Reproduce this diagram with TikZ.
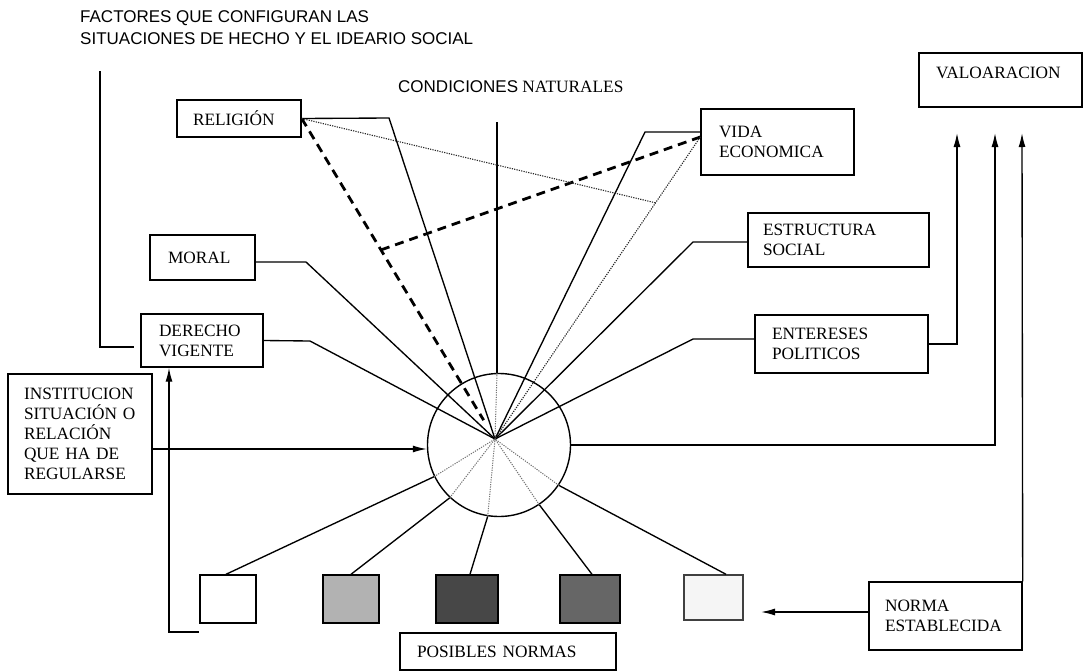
\documentclass[tikz,border=0pt]{standalone}
\usepackage{fontspec}
\setmainfont{Liberation Serif}
\newfontfamily\arialf{Liberation Sans}
\usetikzlibrary{arrows.meta,calc}
\begin{document}
\begin{tikzpicture}[x=1pt,y=-1pt,
  every node/.style={font=\fontsize{17.3}{20}\selectfont},
  box/.style={draw, line width=1.4pt, rectangle, align=left, inner ysep=0pt},
  sq/.style={draw, line width=1.4pt, rectangle, inner sep=0pt, minimum height=48pt},
  ln/.style={line width=1.35pt},
  arr/.style={line width=1.35pt, -{Latex[length=14pt,width=7pt]}},
  dashline/.style={line width=2.8pt, dash pattern=on 9pt off 6pt},
  dotline/.style={line width=1.1pt, dash pattern=on 1.2pt off 1.2pt, black!85},
  inline/.style={line width=1pt, dash pattern=on 1.2pt off 1.2pt, black!55},
]
\useasboundingbox (0,0) rectangle (1087,672);

% texts
\node[anchor=west, align=left, inner sep=0, font=\arialf\fontsize{17}{21.5}\selectfont] (title) at (80,27.5)
  {FACTORES QUE CONFIGURAN LAS\\SITUACIONES DE HECHO Y EL IDEARIO SOCIAL};
\node[anchor=west, inner sep=0] (cond) at (398,87) {{\arialf\fontsize{17}{20}\selectfont CONDICIONES} NATURALES};

% boxes
\node[box, text width=92pt, inner xsep=16pt, minimum height=37pt] (rel) at (239,118.5) {RELIGIÓN};
\node[box, text width=69pt, inner xsep=18pt, minimum height=45pt] (mor) at (202.5,257.5) {MORAL};
\node[box, text width=86pt, inner xsep=18pt, minimum height=53pt] (der) at (202,340.5) {DERECHO\\VIGENTE};
\node[box, text width=112pt, inner xsep=16pt, minimum height=120pt] (inst) at (80,434) {INSTITUCION\\SITUACIÓN O\\RELACIÓN\\QUE HA DE\\REGULARSE};
\node[box, text width=117pt, inner xsep=18pt, minimum height=66pt] (vida) at (777.5,142) {VIDA\\ECONOMICA};
\node[box, text width=151pt, inner xsep=15pt, minimum height=54pt] (est) at (838.5,240) {ESTRUCTURA\\SOCIAL};
\node[box, text width=139pt, inner xsep=17pt, minimum height=58pt] (ent) at (841.5,344) {ENTERESES\\POLITICOS};
\node[box, text width=129pt, inner xsep=17pt, minimum height=54pt] (val) at (1000.5,80) {VALOARACION\\[-6pt]~};
\node[box, text width=121pt, inner xsep=16pt, minimum height=68pt] (norma) at (945.5,616) {NORMA\\ESTABLECIDA};
\node[box, text width=182pt, inner xsep=17pt, minimum height=37pt] (pos) at (508,651.5) {POSIBLES NORMAS};

% circle
\node[draw, circle, line width=1.4pt, minimum size=143pt, inner sep=0pt] (circ) at (499,445) {};
\coordinate (C) at (495,439);

% small squares
\node[sq, minimum width=56pt] (b1) at (228,599) {};
\node[sq, minimum width=56pt, fill=black!30] (b2) at (351,599) {};
\node[sq, minimum width=62pt, fill=black!72] (b3) at (467,599) {};
\node[sq, minimum width=60pt, fill=black!60] (b4) at (590,599) {};
\node[sq, minimum width=59pt, minimum height=45pt, fill=black!4, draw=black!75] (b5) at (713.5,597.5) {};

% factor lines to the centre
\coordinate (R1) at (389,118);
\draw[ln] (rel.east) -- (R1) -- (C);
\coordinate (M1) at (306,262);
\draw[ln] (mor.east |- M1) -- (M1) -- (C);
\coordinate (D1) at (310,341);
\draw[ln] (der.east) -- (D1) -- (C);
\coordinate (V1) at (645,132);
\draw[ln] (vida.west |- V1) -- (V1) -- (C);
\coordinate (S1) at (693,242);
\draw[ln] (est.west |- S1) -- (S1) -- (C);
\coordinate (E1) at (693,339);
\draw[ln] (ent.west |- E1) -- (E1) -- (C);
\coordinate (CN) at (497,122);
\draw[ln] (CN) -- (CN |- circ.north);
\draw[inline] (CN |- circ.north) -- (C);

% dashed and dotted relations
\coordinate (V2) at ([yshift=5pt]vida.west);
\draw[dashline, shorten >=22pt] (rel.east) -- (C);
\coordinate (DB) at ($(rel.east)!0.41!(C)$);
\draw[dashline] (DB) -- (V2);
\coordinate (DT) at ($(V2)!0.218!(C)$);
\draw[dotline] (rel.east) -- (DT);
\draw[dotline] (V2) -- (C);

% possible norms
\draw[ln] ([xshift=-2pt]b1.north) -- (circ.206);
\draw[inline] (circ.206) -- (C);
\draw[ln] (b2.north) -- (circ.227);
\draw[inline] (circ.227) -- (C);
\draw[ln] ([xshift=3pt]b3.north) -- (circ.261);
\draw[inline] (circ.261) -- (C);
\draw[ln] ([xshift=2pt]b4.north) -- (circ.304);
\draw[inline] (circ.304) -- (C);
\draw[ln] ([xshift=12.5pt]b5.north) -- (circ.326);
\draw[inline] (circ.326) -- (C);

% right side arrows
\coordinate (A1) at (957,133);
\draw[arr] (ent.east) -- (ent.east -| A1) -- (A1);
\coordinate (A2) at (995,133);
\draw[arr] (circ.east) -- (circ.east -| A2) -- (A2);
\coordinate (A3) at (1022,133);
\draw[arr] (norma.north east) -- (A3);
\coordinate (NA) at (761,612);
\draw[arr] (norma.west |- NA) -- (NA);

% left side
\coordinate (T0) at (100,71);
\coordinate (T1) at (134,347);
\draw[ln] (T0) |- (T1);
\coordinate (L1) at (199,632);
\coordinate (L2) at (169,632);
\draw[arr] (L1) -- (L2) -- (L2 |- der.south);
\coordinate (I1) at ([yshift=-15pt]inst.east);
\draw[arr] (I1) -- (I1 -| circ.west);
\end{tikzpicture}
\end{document}
